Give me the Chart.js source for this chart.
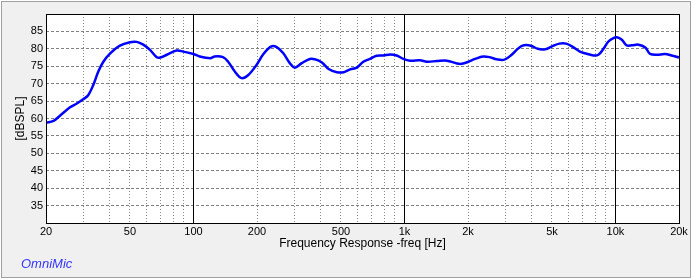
<!DOCTYPE html>
<html>
<head>
<meta charset="utf-8">
<script src="https://cdn.jsdelivr.net/npm/chart.js@4/dist/chart.umd.min.js"></script>
<style>
html,body{margin:0;padding:0;background:#ffffff;}
#wrap{width:693px;height:280px;position:relative;}
</style>
</head>
<body>
<div id="wrap"><canvas id="c" width="693" height="280"></canvas></div>
<script>
// ---- data ----
const freqHz = [20,21.7,23.3,26,28,30,31.7,33.5,35.4,37.4,40.2,44.8,50,53.8,57.8,62.2,67,69.5,74.7,83.2,89.5,
  100,107,120,126,138,146,157,169,182,199,215,234,248,266,286,302,326,356,376,406,437,478,515,553,594,638,686,738,794,854,918,988,
  1062,1186,1278,1424,1588,1772,1870,2010,2160,2360,2540,2734,2980,3220,3470,3680,3970,4280,4650,5000,5420,5840,6290,6780,7300,7860,8300,8770,9260,9780,
  10150,10720,11300,11950,12860,13840,14550,15700,17140,18440,20000];
const splDb = [58.8,59.3,60.8,63.2,64.3,65.5,66.7,69.6,73.5,76.3,78.6,80.9,81.9,82.0,81.2,79.7,77.6,77.5,78.3,79.5,79.2,
  78.5,77.8,77.3,77.8,77.6,76.3,73.5,71.6,72.5,75.4,78.6,80.7,80.5,78.8,75.9,74.6,75.9,77.1,77.0,76.1,74.2,73.3,73.3,74.1,74.6,76.3,77.1,78.0,78.1,78.4,78.1,77.1,
  76.6,76.7,76.3,76.5,76.6,75.8,75.7,76.3,77.1,77.8,77.6,77.0,76.9,78.3,80.2,81.0,80.9,80.0,79.9,80.7,81.5,81.5,80.5,79.2,78.6,78.1,78.3,80.0,82.1,83.1,
  83.3,82.6,81.0,81.0,81.2,80.4,78.6,78.3,78.5,78.1,77.5];
const xGridValues = [20,30,40,50,60,70,80,90,100,200,300,400,500,600,700,800,900,1000,2000,3000,4000,5000,6000,7000,8000,9000,10000,20000];
const xMajorValues = [100,1000,10000];
const xTickLabels = {20:'20',50:'50',100:'100',200:'200',500:'500',1000:'1k',2000:'2k',5000:'5k',10000:'10k',20000:'20k'};
const yMin = 30, yMax = 90, yStep = 5;
const xTitle = 'Frequency Response -freq [Hz]';
const yTitle = '[dBSPL]';
const brandText = 'OmniMic';

const FONT = '"Liberation Sans", Arial, sans-serif';

const framePlugin = {
  id: 'frame',
  beforeDraw(chart) {
    const ctx = chart.ctx, W = chart.width, H = chart.height, a = chart.chartArea;
    ctx.save();
    ctx.fillStyle = '#ffffff';
    ctx.fillRect(0, 0, W, H);
    ctx.fillStyle = '#f0f0f0';
    ctx.fillRect(1, 1, 690, 277);
    ctx.strokeStyle = '#a0a0a0';
    ctx.lineWidth = 1;
    ctx.strokeRect(1.5, 1.5, 689, 276);
    ctx.fillStyle = '#ffffff';
    ctx.fillRect(a.left, a.top, a.right - a.left, a.bottom - a.top);
    ctx.restore();
  },
  beforeDatasetsDraw(chart) {
    const ctx = chart.ctx, a = chart.chartArea, xs = chart.scales.x;
    ctx.save();
    ctx.strokeStyle = '#000000';
    ctx.lineWidth = 1;
    xMajorValues.forEach(v => {
      const px = Math.round(xs.getPixelForValue(v)) + 0.5;
      ctx.beginPath();
      ctx.moveTo(px, a.top);
      ctx.lineTo(px, a.bottom);
      ctx.stroke();
    });
    ctx.restore();
  },
  afterDraw(chart) {
    const ctx = chart.ctx, a = chart.chartArea;
    ctx.save();
    ctx.strokeStyle = '#000000';
    ctx.lineWidth = 1;
    ctx.strokeRect(Math.round(a.left) + 0.5, Math.round(a.top) + 0.5,
                   Math.round(a.right - a.left), Math.round(a.bottom - a.top));
    ctx.fillStyle = '#000000';
    ctx.font = '12px ' + FONT;
    ctx.textAlign = 'center';
    ctx.textBaseline = 'middle';
    ctx.fillText(xTitle, (a.left + a.right) / 2, 244);
    ctx.translate(21, (a.top + a.bottom) / 2);
    ctx.rotate(-Math.PI / 2);
    ctx.fillText(yTitle, 0, 0);
    ctx.restore();
    ctx.save();
    ctx.fillStyle = '#3535ff';
    ctx.font = 'italic 13px ' + FONT;
    ctx.textAlign = 'left';
    ctx.textBaseline = 'middle';
    ctx.fillText(brandText, 21, 264);
    ctx.restore();
  }
};

new Chart(document.getElementById('c'), {
  type: 'line',
  data: {
    datasets: [{
      data: freqHz.map((f, i) => ({x: f, y: splDb[i]})),
      borderColor: '#0000ff',
      borderWidth: 2.5,
      pointRadius: 0,
      tension: 0.35,
      fill: false
    }]
  },
  options: {
    responsive: false,
    devicePixelRatio: 1,
    animation: false,
    layout: {padding: {left: 0, right: 14, top: 14, bottom: 0}},
    plugins: {legend: {display: false}, tooltip: {enabled: false}, title: {display: false}},
    scales: {
      x: {
        type: 'logarithmic',
        min: 20, max: 20000,
        afterBuildTicks(scale) { scale.ticks = xGridValues.map(v => ({value: v})); },
        afterFit(scale) { scale.height = 57; },
        ticks: {
          autoSkip: false, maxRotation: 0, minRotation: 0, padding: 2,
          color: '#000000', font: {family: FONT, size: 11},
          callback: (v) => xTickLabels[v] || ''
        },
        grid: {
          drawTicks: false,
          lineWidth: 1,
          color: (ctx) => {
            const v = ctx.tick && ctx.tick.value;
            if (v === 20 || v === 20000 || xMajorValues.includes(v)) return 'rgba(0,0,0,0)';
            return '#8a8a8a';
          }
        },
        border: {display: false, dash: [1, 2]}
      },
      y: {
        type: 'linear',
        min: yMin, max: yMax,
        afterFit(scale) { scale.width = 46; },
        ticks: {
          stepSize: yStep, padding: 3,
          color: '#000000', font: {family: FONT, size: 11},
          callback: (v) => (v === yMin || v === yMax) ? '' : String(v)
        },
        grid: {
          drawTicks: false,
          lineWidth: 1,
          color: (ctx) => {
            const v = ctx.tick && ctx.tick.value;
            if (v === yMin || v === yMax) return 'rgba(0,0,0,0)';
            return '#808080';
          }
        },
        border: {display: false, dash: [3, 2]}
      }
    }
  },
  plugins: [framePlugin]
});
</script>
</body>
</html>
